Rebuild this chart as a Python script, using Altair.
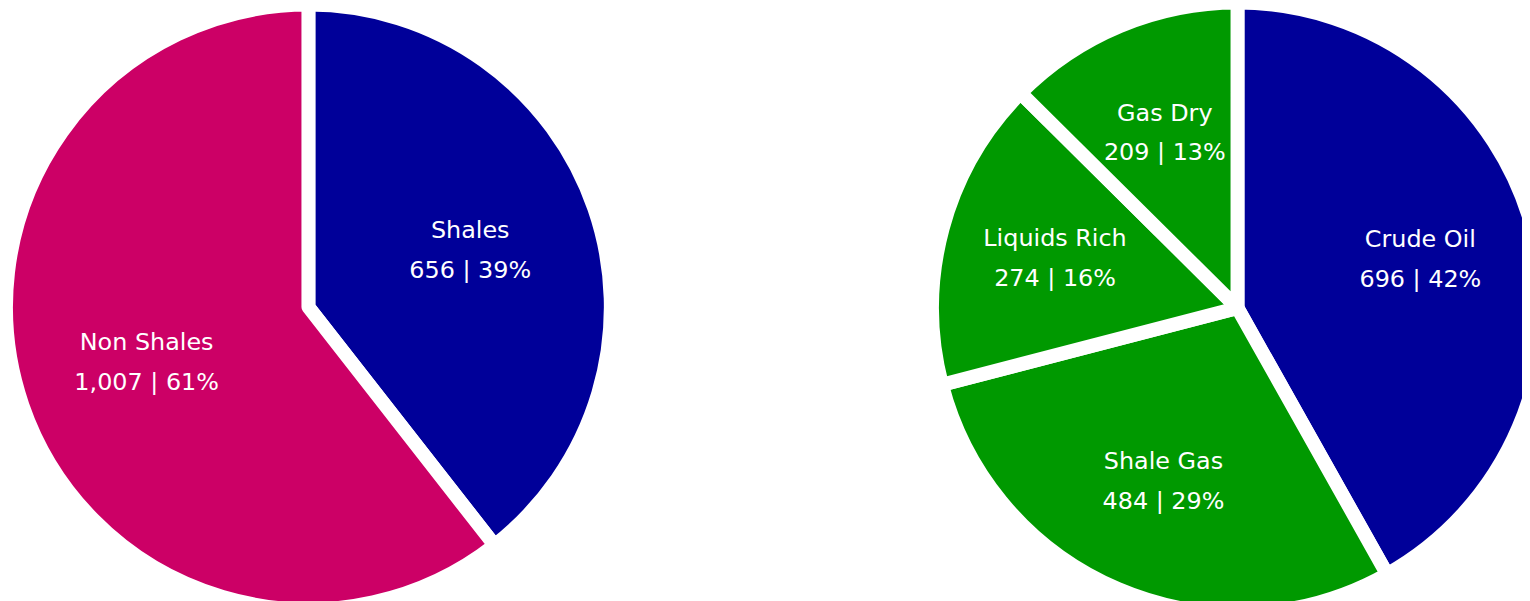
import altair as alt
import pandas as pd

# ---- data ----
left_cats = ["Shales", "Non Shales"]
left_vals = [656, 1007]
left_pcts = [39, 61]

right_cats = ["Crude Oil", "Shale Gas", "Liquids Rich", "Gas Dry"]
right_vals = [696, 484, 274, 209]
right_pcts = [42, 29, 16, 13]

color_domain = ["Shales", "Non Shales", "Crude Oil", "Shale Gas", "Liquids Rich", "Gas Dry"]
color_range = ["#000099", "#CC0066", "#000099", "#009900", "#009900", "#009900"]


def make_df(cats, vals, pcts):
    return pd.DataFrame({
        "cat": cats,
        "value": vals,
        "idx": list(range(len(cats))),
        "label": [f"{c}\n{v:,} | {p}%" for c, v, p in zip(cats, vals, pcts)],
    })


left_df = make_df(left_cats, left_vals, left_pcts)
right_df = make_df(right_cats, right_vals, right_pcts)

color = alt.Color("cat:N", scale=alt.Scale(domain=color_domain, range=color_range), legend=None)


def pie(df, cx, cy, r_out, r_label):
    theta = alt.Theta("value:Q", stack=True)
    arcs = alt.Chart(df).mark_arc(
        outerRadius=r_out, stroke="white", strokeWidth=14, strokeJoin="round"
    ).encode(
        theta=theta,
        color=color,
        order=alt.Order("idx:Q"),
        x=alt.value(cx),
        y=alt.value(cy),
    )
    text = alt.Chart(df).mark_text(
        radius=r_label, font="DejaVu Sans", fontSize=24, color="white",
        lineBreak="\n", lineHeight=40, align="center", baseline="middle", dy=-20,
    ).encode(
        theta=theta,
        text="label:N",
        order=alt.Order("idx:Q"),
        x=alt.value(cx),
        y=alt.value(cy),
    )
    return alt.layer(arcs, text)


left = pie(left_df, 302, 299, 304, 172)
right = pie(right_df, 1236, 300, 307, 190)

chart = alt.layer(left, right).resolve_scale(theta="independent").properties(
    width=1522, height=593, padding=0,
    autosize=alt.AutoSizeParams(type="none"),
).configure_view(stroke=None)

chart.save("out.html", embed_options={"renderer": "svg", "actions": False})
